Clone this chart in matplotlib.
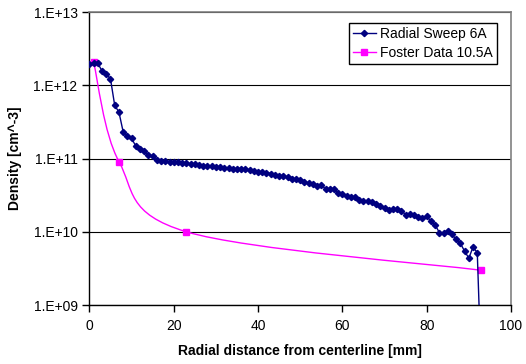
import numpy as np
import matplotlib
matplotlib.use("Agg")
import matplotlib.pyplot as plt
from matplotlib.ticker import FixedLocator, FuncFormatter, NullLocator
from matplotlib.path import Path
from matplotlib.patches import PathPatch

plt.rcParams['font.family'] = ['Liberation Sans', 'DejaVu Sans']

# radial sweep, 1 mm steps, last point drops off the bottom of the log axis
sweep_r = np.arange(0, 94)
sweep_n = [1.93e12, 2.03e12, 1.99e12, 1.56e12, 1.42e12, 1.22e12, 5.31e11, 4.30e11,
           2.32e11, 2.04e11, 1.88e11, 1.48e11, 1.36e11, 1.25e11, 1.10e11, 1.07e11,
           9.42e10, 9.31e10, 9.12e10, 8.93e10, 8.85e10, 8.85e10, 8.57e10, 8.57e10,
           8.47e10, 8.38e10, 8.20e10, 7.94e10, 7.94e10, 7.94e10, 7.63e10, 7.56e10,
           7.46e10, 7.32e10, 7.23e10, 7.23e10, 7.10e10, 7.10e10, 6.95e10, 6.78e10,
           6.61e10, 6.48e10, 6.42e10, 6.22e10, 6.03e10, 5.84e10, 5.69e10, 5.57e10,
           5.28e10, 5.23e10, 5.07e10, 4.71e10, 4.61e10, 4.47e10, 4.24e10, 4.33e10,
           3.86e10, 3.82e10, 3.82e10, 3.34e10, 3.30e10, 3.09e10, 3.00e10, 2.94e10,
           2.70e10, 2.64e10, 2.62e10, 2.54e10, 2.38e10, 2.24e10, 2.12e10, 1.97e10,
           2.02e10, 2.02e10, 1.93e10, 1.72e10, 1.74e10, 1.72e10, 1.57e10, 1.53e10,
           1.63e10, 1.40e10, 1.24e10, 9.77e9, 9.66e9, 1.04e10, 9.19e9, 7.85e9,
           6.92e9, 5.43e9, 4.36e9, 6.22e9, 5.15e9, 1.0e8]

foster_r = [1, 7, 23, 93]
foster_n = [2.05e12, 9.1e10, 1.0e10, 2.98e9]

fig = plt.figure(figsize=(5.26, 3.64), dpi=100)
ax = fig.add_axes([0.170, 0.162, 0.8015, 0.805])
ax.set_yscale('log')
ax.set_xlim(0, 100)
ax.set_ylim(1e9, 1e13)

ax.plot(sweep_r, sweep_n, color='#000080', lw=1.0, marker='D', ms=3.2,
        label='Radial Sweep 6A', zorder=4)

# smoothed line through the foster points (bezier, done in screen space)
pts = ax.transData.transform(np.column_stack([foster_r, foster_n]))
verts = [pts[0]]
codes = [Path.MOVETO]
n = len(pts)
for i in range(n - 1):
    p_prev = pts[i - 1] if i > 0 else pts[i]
    p_next = pts[i + 2] if i + 2 < n else pts[i + 1]
    c1 = pts[i] + (pts[i + 1] - p_prev) / 6.0
    c2 = pts[i + 1] - (p_next - pts[i]) / 6.0
    verts += [c1, c2, pts[i + 1]]
    codes += [Path.CURVE4] * 3
curve = PathPatch(Path(verts, codes), transform=None, fill=False,
                  edgecolor='#FF00FF', lw=1.0, zorder=3)
curve.set_clip_path(ax.patch)
ax.add_artist(curve)
ax.plot(foster_r, foster_n, ls='none', marker='s', ms=4.2, color='#FF00FF', zorder=3)
ax.plot([], [], color='#FF00FF', lw=1.0, marker='s', ms=4.2, label='Foster Data 10.5A')

ax.yaxis.set_major_locator(FixedLocator([1e9, 1e10, 1e11, 1e12, 1e13]))
ax.yaxis.set_minor_locator(NullLocator())
ax.yaxis.set_major_formatter(FuncFormatter(lambda v, p: "1.E+%02d" % int(round(np.log10(v)))))
ax.set_xticks([0, 20, 40, 60, 80, 100])
ax.tick_params(direction='out', length=5, width=1, labelsize=10, color='black')
ax.tick_params(axis='x', pad=5)
ax.grid(axis='y', color='black', lw=0.8)

for s in ['top', 'right']:
    ax.spines[s].set_color('#808080')
    ax.spines[s].set_linewidth(1.2)
for s in ['left', 'bottom']:
    ax.spines[s].set_linewidth(1.0)

ax.set_xlabel('Radial distance from centerline [mm]', fontsize=10, fontweight='bold', labelpad=8)
ax.set_ylabel('Density [cm^-3]', fontsize=10, fontweight='bold', labelpad=8)

leg = ax.legend(loc='upper right', bbox_to_anchor=(0.966, 0.9635), borderaxespad=0,
                fontsize=10, fancybox=False, framealpha=1, edgecolor='black',
                handlelength=1.6, handletextpad=0.3, labelspacing=0.35, borderpad=0.3)
leg.get_frame().set_linewidth(1.0)

fig.savefig('out.png', dpi=100)
